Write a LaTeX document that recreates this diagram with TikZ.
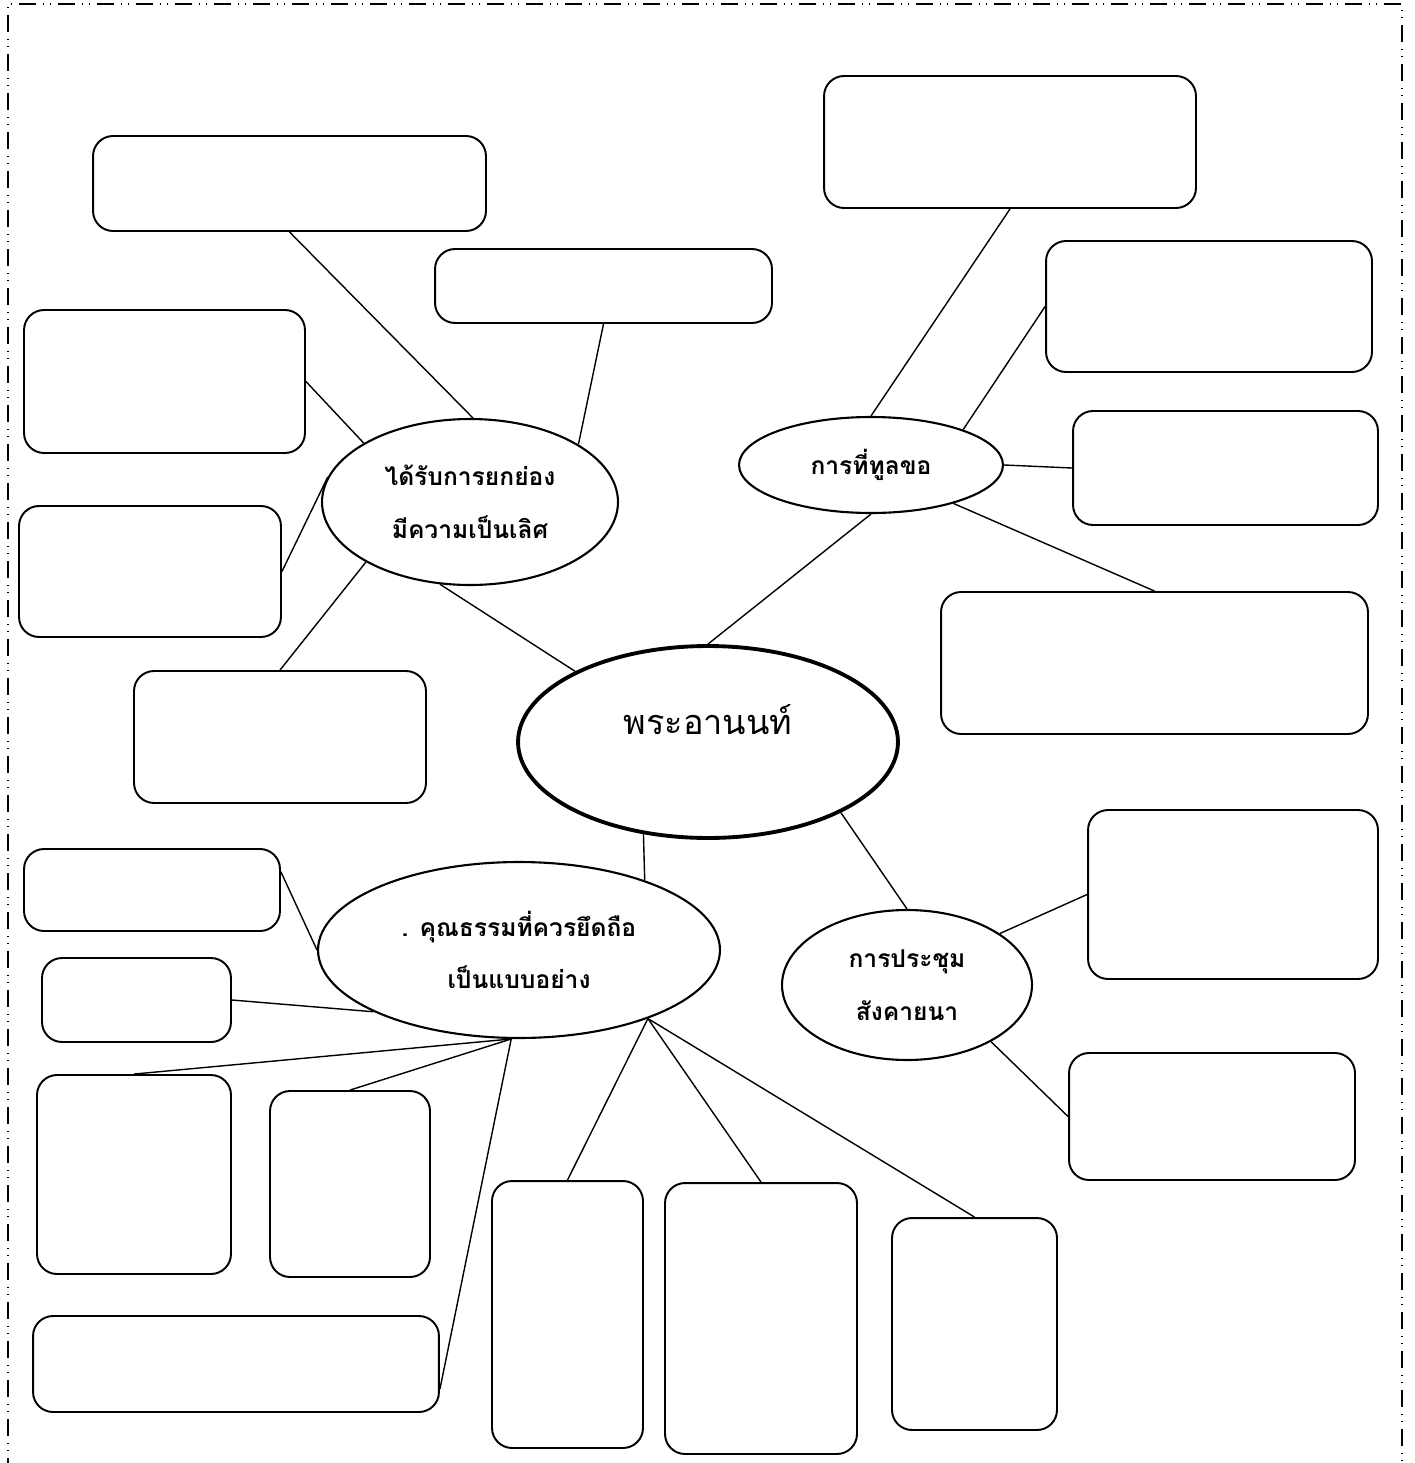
\documentclass[tikz,border=0pt]{standalone}
\usepackage{fontspec}
\newfontfamily\thaifont[Script=Thai]{Loma}
\usetikzlibrary{shapes.geometric}
\tikzset{
    box/.style={rectangle, draw, line width=1.1pt, rounded corners=0.4cm, inner sep=0pt},
    topic/.style={ellipse, draw, line width=1.2pt, inner sep=0pt, align=center, font=\thaifont\bfseries\fontsize{14}{30}\selectfont},
    hub/.style={ellipse, draw, line width=2.2pt, inner sep=0pt},
    link/.style={line width=0.8pt},
    frame/.style={line width=0.9pt, dash pattern=on 9.6pt off 4pt on 0.6pt off 3.4pt on 0.6pt off 4pt},
}
\begin{document}
\begin{tikzpicture}[x=0.02cm, y=-0.02cm]
    \useasboundingbox (0,0) rectangle (1415,1463);
    % page frame
    \draw [frame] (8,1475) -- (8,4) -- (1402,4) -- (1402,1475);
    % centre
    \node [hub, minimum width=7.6cm, minimum height=3.84cm,
           label={[font=\thaifont\fontsize{19.5}{24}\selectfont, yshift=0.44cm]center:พระอานนท์}] (anan) at (708,742) {};
    % main topics
    \node [topic, minimum width=5.92cm, minimum height=3.32cm] (praise) at (470,502) {ได้รับการยกย่อง\\มีความเป็นเลิศ};
    \node [topic, minimum width=5.28cm, minimum height=1.92cm] (request) at (871,465) {การที่ทูลขอ};
    \node [topic, minimum width=8.04cm, minimum height=3.52cm] (virtue) at (519,950) {. คุณธรรมที่ควรยึดถือ\\เป็นแบบอย่าง};
    \node [topic, minimum width=5.0cm, minimum height=3.0cm] (council) at (907,985) {การประชุม\\สังคายนา};
    % boxes round praise
    \node [box, minimum width=7.86cm, minimum height=1.90cm] (p1) at (289.5,183.5) {};
    \node [box, minimum width=6.74cm, minimum height=1.48cm] (p2) at (603.5,286) {};
    \node [box, minimum width=5.62cm, minimum height=2.86cm] (p3) at (164.5,381.5) {};
    \node [box, minimum width=5.24cm, minimum height=2.62cm] (p4) at (150,571.5) {};
    \node [box, minimum width=5.84cm, minimum height=2.64cm] (p5) at (280,737) {};
    % boxes round request
    \node [box, minimum width=7.44cm, minimum height=2.64cm] (q1) at (1010,142) {};
    \node [box, minimum width=6.52cm, minimum height=2.62cm] (q2) at (1209,306.5) {};
    \node [box, minimum width=6.10cm, minimum height=2.28cm] (q3) at (1225.5,468) {};
    \node [box, minimum width=8.54cm, minimum height=2.84cm] (q4) at (1154.5,663) {};
    % boxes round council
    \node [box, minimum width=5.80cm, minimum height=3.38cm] (c1) at (1233,894.5) {};
    \node [box, minimum width=5.72cm, minimum height=2.54cm] (c2) at (1212,1116.5) {};
    % boxes round virtue
    \node [box, minimum width=5.12cm, minimum height=1.64cm] (v1) at (152,890) {};
    \node [box, minimum width=3.78cm, minimum height=1.68cm] (v2) at (136.5,1000) {};
    \node [box, minimum width=3.88cm, minimum height=3.98cm] (v3) at (134,1174.5) {};
    \node [box, minimum width=3.20cm, minimum height=3.72cm] (v4) at (350,1184) {};
    \node [box, minimum width=8.12cm, minimum height=1.92cm] (v5) at (236,1364) {};
    \node [box, minimum width=3.02cm, minimum height=5.34cm] (v6) at (567.5,1314.5) {};
    \node [box, minimum width=3.84cm, minimum height=5.42cm] (v7) at (761,1318.5) {};
    \node [box, minimum width=3.30cm, minimum height=4.24cm] (v8) at (974.5,1324) {};
    % centre to topics
    \draw [link] (anan.152) -- (praise.250);
    \draw [link] (anan.90) -- (request.270);
    \draw [link] (anan.235) -- (virtue.29);
    \draw [link] (anan.332) -- (council.90);
    % praise
    \draw [link] (p1.south) -- (praise.88);
    \draw [link] (p2.south) -- (praise.28);
    \draw [link] (p3.east) -- (praise.151);
    \draw [link] (p4.east) -- (praise.170);
    \draw [link] (p5.north) -- (praise.210);
    % request
    \draw [link] (q1.south) -- (request.90);
    \draw [link] (q2.west) -- (request.21);
    \draw [link] (q3.west) -- (request.0);
    \draw [link] (q4.north) -- (request.335);
    % council
    \draw [link] (council.29) -- (c1.west);
    \draw [link] (council.326) -- (c2.west);
    % virtue
    \draw [link] (v1.8) -- (virtue.180);
    \draw [link] (v2.east) -- (virtue.203);
    \draw [link] (v3.north) -- (virtue.265);
    \draw [link] (v4.north) -- (virtue.265);
    \draw [link] (v5.-7) -- (virtue.265);
    \draw [link] (v6.north) -- (virtue.332);
    \draw [link] (v7.north) -- (virtue.332);
    \draw [link] (v8.north) -- (virtue.332);
\end{tikzpicture}
\end{document}
